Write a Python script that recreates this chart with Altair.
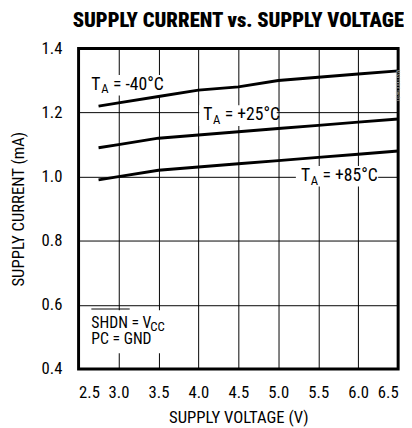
import altair as alt
import pandas as pd

FONT = "Roboto Condensed, Roboto, sans-serif"

voltage = [2.75, 3.0, 3.5, 4.0, 4.5, 5.0, 5.5, 6.0, 6.5]
cur_m40 = [1.22, 1.23, 1.25, 1.27, 1.28, 1.30, 1.31, 1.32, 1.33]
cur_p25 = [1.09, 1.10, 1.12, 1.13, 1.14, 1.15, 1.16, 1.17, 1.18]
cur_p85 = [0.99, 1.00, 1.02, 1.03, 1.04, 1.05, 1.06, 1.07, 1.08]

x_ticks = [2.5, 3.0, 3.5, 4.0, 4.5, 5.0, 5.5, 6.0, 6.5]
y_ticks = [0.4, 0.6, 0.8, 1.0, 1.2, 1.4]

rows = []
for name, ys in [("-40", cur_m40), ("+25", cur_p25), ("+85", cur_p85)]:
    for v, c in zip(voltage, ys):
        rows.append({"v": v, "i": c, "t": name})
df = pd.DataFrame(rows)

xs = alt.Scale(domain=[2.5, 6.5], nice=False)
ys_ = alt.Scale(domain=[0.4, 1.4], nice=False)

base = alt.Chart(df)

lines = base.mark_line(color="black", strokeWidth=3).encode(
    x=alt.X("v:Q", scale=xs, title="SUPPLY VOLTAGE (V)",
            axis=alt.Axis(values=x_ticks, format=".1f", grid=True, gridColor="black",
                          gridWidth=1, gridOpacity=1, tickSize=0, domain=False,
                          labelPadding=16, titlePadding=10)),
    y=alt.Y("i:Q", scale=ys_, title="SUPPLY CURRENT (mA)",
            axis=alt.Axis(values=y_ticks, format=".1f", grid=True, gridColor="black",
                          gridWidth=1, gridOpacity=1, tickSize=0, domain=False,
                          labelPadding=17, titlePadding=14)),
    detail="t:N",
)

# white label backgrounds
bg = pd.DataFrame({
    "x": [2.623, 4.01, 5.22, 2.60],
    "x2": [3.58, 4.98, 6.25, 3.63],
    "y": [1.317, 1.223, 1.033, 0.583],
    "y2": [1.253, 1.158, 0.969, 0.449],
})
rects = alt.Chart(bg).mark_rect(color="white").encode(
    x=alt.X("x:Q", scale=xs), x2="x2:Q", y=alt.Y("y:Q", scale=ys_), y2="y2:Q")

# label parts
parts = pd.DataFrame([
    {"x": 2.66, "y": 1.287, "txt": "T", "dx": 0, "dy": 0, "s": 18},
    {"x": 2.66, "y": 1.287, "txt": "A", "dx": 10, "dy": 5, "s": 13},
    {"x": 2.66, "y": 1.287, "txt": "= -40°C", "dx": 22, "dy": 0, "s": 18},
    {"x": 4.06, "y": 1.192, "txt": "T", "dx": 0, "dy": 0, "s": 18},
    {"x": 4.06, "y": 1.192, "txt": "A", "dx": 10, "dy": 5, "s": 13},
    {"x": 4.06, "y": 1.192, "txt": "= +25°C", "dx": 22, "dy": 0, "s": 18},
    {"x": 5.285, "y": 1.0025, "txt": "T", "dx": 0, "dy": 0, "s": 18},
    {"x": 5.285, "y": 1.0025, "txt": "A", "dx": 10, "dy": 5, "s": 13},
    {"x": 5.285, "y": 1.0025, "txt": "= +85°C", "dx": 22, "dy": 0, "s": 18},
    {"x": 2.66, "y": 0.544, "txt": "SHDN = V", "dx": 0, "dy": 0, "s": 16},
    {"x": 2.66, "y": 0.544, "txt": "CC", "dx": 60, "dy": 4, "s": 13},
    {"x": 2.66, "y": 0.492, "txt": "PC = GND", "dx": 0, "dy": 0, "s": 16},
])
texts = []
for (dx, dy, s), g in parts.groupby(["dx", "dy", "s"]):
    texts.append(alt.Chart(g).mark_text(align="left", baseline="middle", dx=int(dx), dy=int(dy),
                                        fontSize=int(s), font=FONT, color="black").encode(
        x=alt.X("x:Q", scale=xs), y=alt.Y("y:Q", scale=ys_), text="txt:N"))

over = pd.DataFrame({"x": [2.66], "x2": [3.14], "y": [0.587]})
overline = alt.Chart(over).mark_rule(color="black", strokeWidth=1).encode(
    x=alt.X("x:Q", scale=xs), x2="x2:Q", y=alt.Y("y:Q", scale=ys_))

side = alt.Chart(pd.DataFrame({"x": [6.5], "y": [1.3]})).mark_text(
    angle=90, fontSize=5, color="#aaaaaa", font=FONT, dx=5).encode(
    x=alt.X("x:Q", scale=xs), y=alt.Y("y:Q", scale=ys_), text=alt.value("MAX1XXX toc01"))

chart = alt.layer(rects, *texts, overline, lines, side).properties(
    width=326, height=327,
    title=alt.TitleParams("SUPPLY CURRENT vs. SUPPLY VOLTAGE", font=FONT, fontSize=21,
                          fontWeight=900, color="black", anchor="middle", offset=9, dx=0),
    padding={"left": 72, "top": 37, "right": 6, "bottom": 56},
    autosize=alt.AutoSizeParams(type="none"),
).configure_view(stroke="black", strokeWidth=3).configure_axis(
    labelFont=FONT, titleFont=FONT, labelFontSize=17, titleFontSize=17,
    labelColor="black", titleColor="black", titleFontWeight="normal"
)

chart.save("out.html", embed_options={"renderer": "svg", "actions": False})
